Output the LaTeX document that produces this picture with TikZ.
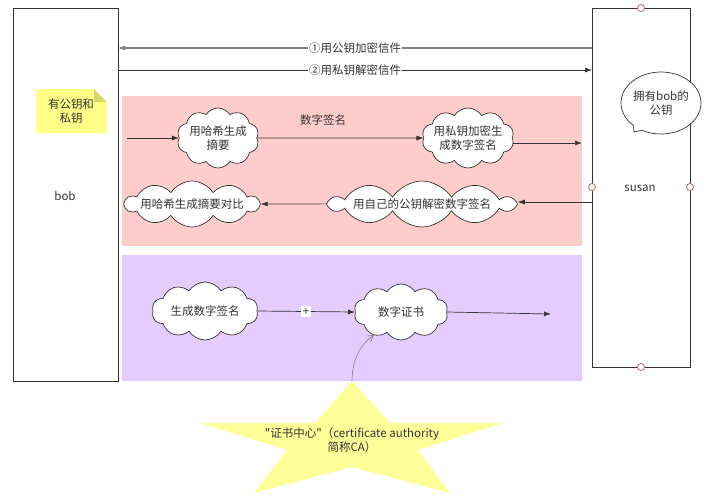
\documentclass[tikz,border=0pt]{standalone}
\usepackage{fontspec}
\setmainfont{Noto Sans CJK SC}[Ligatures=TeXOff]
\usetikzlibrary{arrows.meta,shapes.symbols,shapes.callouts,shapes.geometric}
\definecolor{pinkbg}{HTML}{FFCCCC}
\definecolor{purplebg}{HTML}{E5CCFF}
\definecolor{noteyellow}{HTML}{FFFF88}
\definecolor{notefold}{HTML}{D6D66A}
\definecolor{staryellow}{HTML}{FFFF99}
\definecolor{linedark}{HTML}{333333}
\definecolor{portred}{HTML}{B85450}
\begin{document}
\begin{tikzpicture}[x=1pt,y=-1pt,
  txt/.style={font=\fontsize{11.5}{14}\selectfont, text=linedark},
  actor/.style={draw=linedark, line width=0.8pt, fill=white},
  cloudbox/.style={cloud, cloud puffs=10, cloud puff arc=115, cloud ignores aspect, draw=linedark, fill=white, line width=0.7pt, inner sep=0pt},
  ctext/.style={txt, align=center},
  arr/.style={draw=linedark, line width=0.7pt, -{Latex[length=7pt,width=5pt]}},
  port/.style={circle, draw=portred, fill=white, line width=0.7pt, minimum size=7pt, inner sep=0pt},
  lbl/.style={fill=white, inner sep=1pt, txt}]
\useasboundingbox (0,0) rectangle (718,496);
\fill[white] (0,0) rectangle (718,496);

% actors
\draw[actor] (13,8) rectangle (118,381);
\node[txt] (bob) at (65,196) {bob};
\draw[actor] (592,8) rectangle (690,367);
\node[txt] (susan) at (640,188) {susan};
\node[port] (pt) at (641,8) {};
\node[port] (pb) at (641,367) {};
\node[port] (pl) at (592,187) {};
\node[port] (pr) at (690,187) {};

% message arrows
\coordinate (s1) at (592,48);
\coordinate (b1) at (118,48);
\coordinate (b2) at (118,70);
\coordinate (s2) at (592,70);
\draw[draw=gray, line width=1.2pt, -{Latex[length=7pt,width=5pt]}] (s1) -- node[lbl] {①用公钥加密信件} (b1);
\draw[arr] (b2) -- node[lbl] {②用私钥解密信件} (s2);

% note
\fill[noteyellow] (36,89) -- (94,89) -- (107,102) -- (107,133) -- (36,133) -- cycle;
\fill[notefold] (94,89) -- (107,102) -- (94,102) -- cycle;
\node[txt, align=center] (note) at (71,111) {有公钥和\\私钥};

% pink area
\fill[pinkbg] (122,96) rectangle (582,246);
\node[txt] (sigtitle) at (323,120) {数字签名};
\node[cloudbox, minimum width=82pt, minimum height=60pt] (c1) at (218,138) {};
\node[ctext] (c1t) at (c1) {用哈希生成\\摘要};
\node[cloudbox, minimum width=92pt, minimum height=60pt] (c2) at (468,138) {};
\node[ctext] (c2t) at (c2) {用私钥加密生\\成数字签名};
\node[cloudbox, minimum width=184pt, minimum height=46pt] (c3) at (422,204) {};
\node[ctext] (c3t) at (c3) {用自己的公钥解密数字签名};
\node[cloudbox, minimum width=134pt, minimum height=46pt] (c4) at (192,204) {};
\node[ctext] (c4t) at (c4) {用哈希生成摘要对比};
\coordinate (in1) at (127,138);
\coordinate (out2) at (582,143);
\draw[arr] (in1) -- (c1.west |- in1);
\draw[arr] (c1.east) -- (c2.west);
\draw[arr] (c2.east |- out2) -- (out2);
\coordinate (s3) at (592,202);
\draw[arr] (s3) -- (c3.east |- s3);
\draw[arr] (c3.west) -- (c4.east);

% purple area
\fill[purplebg] (122,255) rectangle (582,381);
\node[cloudbox, minimum width=106pt, minimum height=58pt] (c5) at (205,311) {};
\node[ctext] (c5t) at (c5) {生成数字签名};
\node[cloudbox, minimum width=94pt, minimum height=56pt] (c6) at (401,312) {};
\node[ctext] (c6t) at (c6) {数字证书};
\coordinate (out6) at (551,314);
\draw[arr] (c5.east) -- node[lbl, inner sep=2pt] {+} (c6.west);
\draw[arr] (c6.east) -- (out6);

% speech bubble
\node[ellipse callout, draw=linedark, fill=white, line width=0.7pt, minimum width=80pt, minimum height=62pt, inner sep=0pt, align=center, txt, callout absolute pointer={(634,132)}] (bubble) at (661,103) {拥有bob的\\公钥};

% star
\fill[staryellow] (352,381) -- (390,423) -- (503,423) -- (418,450) -- (450,493) -- (352,467) -- (254,493) -- (287,450) -- (200,423) -- (315,423) -- cycle;
\coordinate (startop) at (352,381);
\node[txt, align=center] (ca) at (352,440) {"证书中心"（certificate authority\\简称CA）};
\draw[gray, line width=0.6pt, -{Straight Barb[length=6pt,width=7pt]}] (startop) .. controls (352,360) and (360,345) .. (374,335);
\end{tikzpicture}
\end{document}
